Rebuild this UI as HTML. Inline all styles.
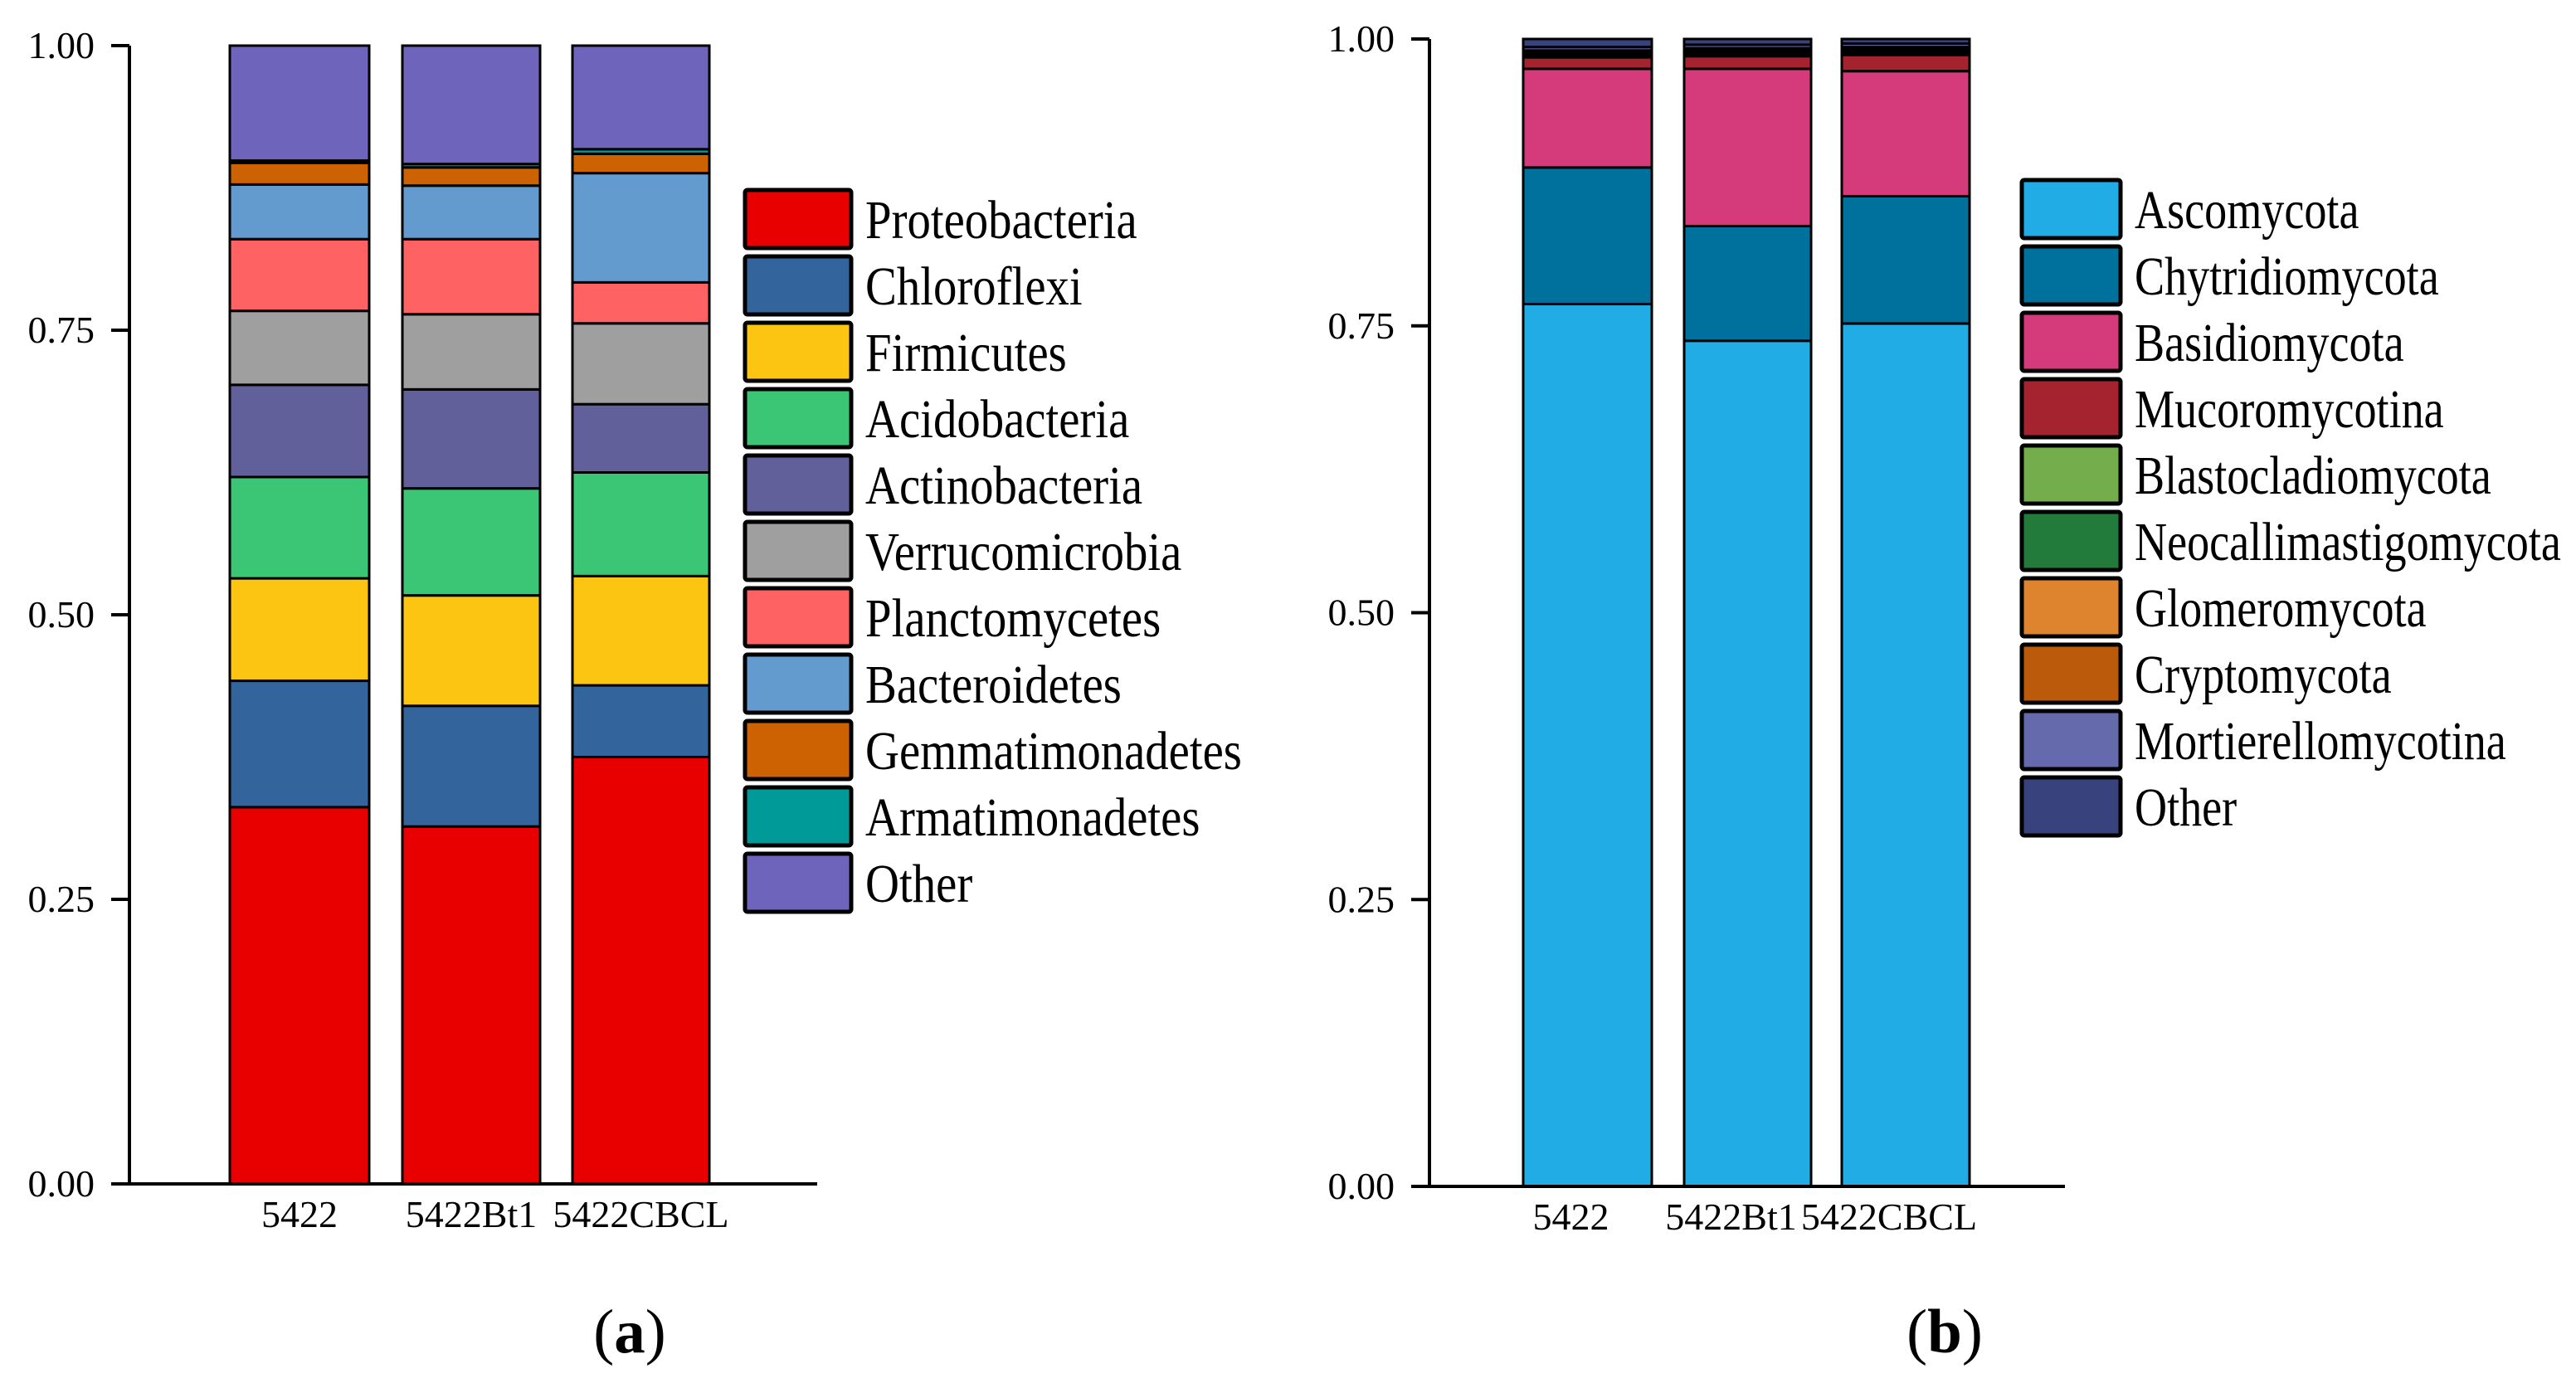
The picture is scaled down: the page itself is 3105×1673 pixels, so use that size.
<!DOCTYPE html>
<html><head><meta charset="utf-8"><style>
html,body{margin:0;padding:0;background:#fff;}
svg{display:block;font-family:"Liberation Serif",serif;}
</style></head><body>
<svg id="chart" width="3105" height="1673" viewBox="0 0 3105 1673" xmlns="http://www.w3.org/2000/svg"></svg>
<script>
const samples = ["5422","5422Bt1","5422CBCL"];
const ticks = [0,0.25,0.5,0.75,1];
const tickLabels = ["0.00","0.25","0.50","0.75","1.00"];
const bactTaxa = ["Proteobacteria","Chloroflexi","Firmicutes","Acidobacteria","Actinobacteria","Verrucomicrobia","Planctomycetes","Bacteroidetes","Gemmatimonadetes","Armatimonadetes","Other"];
const bactColors = ["#e80000","#33659c","#fcc512","#3bc675","#62609a","#9f9f9f","#fe6262","#639bcf","#cc6201","#009a99","#6e64bc"];
const bact5422 = [0.331,0.111,0.090,0.089,0.081,0.065,0.063,0.048,0.019,0.002,0.101];
const bact5422Bt1 = [0.314,0.106,0.097,0.094,0.087,0.066,0.066,0.047,0.016,0.003,0.104];
const bact5422CBCL = [0.375,0.063,0.096,0.091,0.060,0.071,0.036,0.096,0.017,0.004,0.091];
const fungTaxa = ["Ascomycota","Chytridiomycota","Basidiomycota","Mucoromycotina","Blastocladiomycota","Neocallimastigomycota","Glomeromycota","Cryptomycota","Mortierellomycotina","Other"];
const fungColors = ["#21ace6","#00719c","#d53a7b","#a4232e","#74ad4b","#227b3b","#df842e","#bb5a0b","#646aab","#38427c"];
const fung5422 = [0.769,0.119,0.086,0.010,0.002,0.002,0.001,0.001,0.003,0.007];
const fung5422Bt1 = [0.737,0.100,0.137,0.011,0.002,0.002,0.001,0.002,0.003,0.005];
const fung5422CBCL = [0.752,0.111,0.109,0.014,0.002,0.002,0.001,0.002,0.003,0.004];

const NS="http://www.w3.org/2000/svg";
const FF='Liberation Serif, serif';
const svg=document.getElementById('chart');
function mk(tag,attrs,parent){const e=document.createElementNS(NS,tag);for(const k in attrs)e.setAttribute(k,attrs[k]);(parent||svg).appendChild(e);return e;}

function drawPanel(cfg){
  const g=mk('g',{});
  
  
  const y=v=>cfg.y0+(cfg.y1-cfg.y0)*v;
  cfg.series.forEach((vals,i)=>{
    const [bx0,bx1]=cfg.bars[i];
    let acc=0;
    vals.forEach((v,j)=>{
      const top=y(acc+v), bot=y(acc);
      const r=mk('rect',{x:bx0,y:top,width:bx1-bx0,height:Math.max(0,bot-top),fill:cfg.colors[j],stroke:'#000','stroke-width':3},g);
      
      
      acc+=v;
    });
    const t=mk('text',{x:(bx0+bx1)/2-cfg.lblShift,y:cfg.y0+52,'font-size':46,'text-anchor':'middle','font-family':FF},g);
    t.textContent=samples[i];
    
    
  });
  const ya=mk('line',{x1:cfg.ax,y1:cfg.y1,x2:cfg.ax,y2:cfg.y0,stroke:'#000','stroke-width':4},g);
  
  
  const xa=mk('line',{x1:cfg.tickX,y1:cfg.y0,x2:cfg.axEnd,y2:cfg.y0,stroke:'#000','stroke-width':4},g);
  
  
  ticks.forEach((tv,k)=>{
    mk('line',{x1:cfg.tickX,y1:y(tv),x2:cfg.ax,y2:y(tv),stroke:'#000','stroke-width':4},g);
    const t=mk('text',{x:cfg.tickX-20,y:y(tv)+15,'font-size':46,'text-anchor':'end','font-family':FF},g);
    t.textContent=tickLabels[k];
    
    
  });
  cfg.taxa.forEach((name,j)=>{
    const top=cfg.legTop+j*80;
    const r=mk('rect',{x:cfg.legX,y:top,width:cfg.legW,height:70,fill:cfg.colors[j],stroke:'#000','stroke-width':5,rx:3},g);
    
    
    const tg=mk('g',{transform:`translate(${cfg.legX+cfg.legW+17},${top+58}) scale(${cfg.legScale},1)`},g);
    const t=mk('text',{x:0,y:0,'font-size':66,'font-family':FF},tg);
    t.textContent=name;
    
    
  });
  const p=mk('text',{x:cfg.capX,y:1630,'font-size':75,'text-anchor':'middle','font-family':FF},g);
  p.innerHTML='(<tspan font-weight="bold">'+cfg.cap+'</tspan>)';
  
  
}

drawPanel({name:'bacteria-chart',cap:'a',capX:759,series:[bact5422,bact5422Bt1,bact5422CBCL],taxa:bactTaxa,colors:bactColors,
  y0:1427,y1:55,ax:156,tickX:134,axEnd:985,bars:[[277,445],[485,651],[690,855]],lblShift:0,legX:898,legW:128,legTop:229,legScale:0.86});
drawPanel({name:'fungi-chart',cap:'b',capX:2344,series:[fung5422,fung5422Bt1,fung5422CBCL],taxa:fungTaxa,colors:fungColors,
  y0:1430,y1:47,ax:1723,tickX:1701,axEnd:2489,bars:[[1836,1991],[2030,2183],[2220,2374]],lblShift:20,legX:2437,legW:119,legTop:217,legScale:0.82});
</script>
</body></html>
